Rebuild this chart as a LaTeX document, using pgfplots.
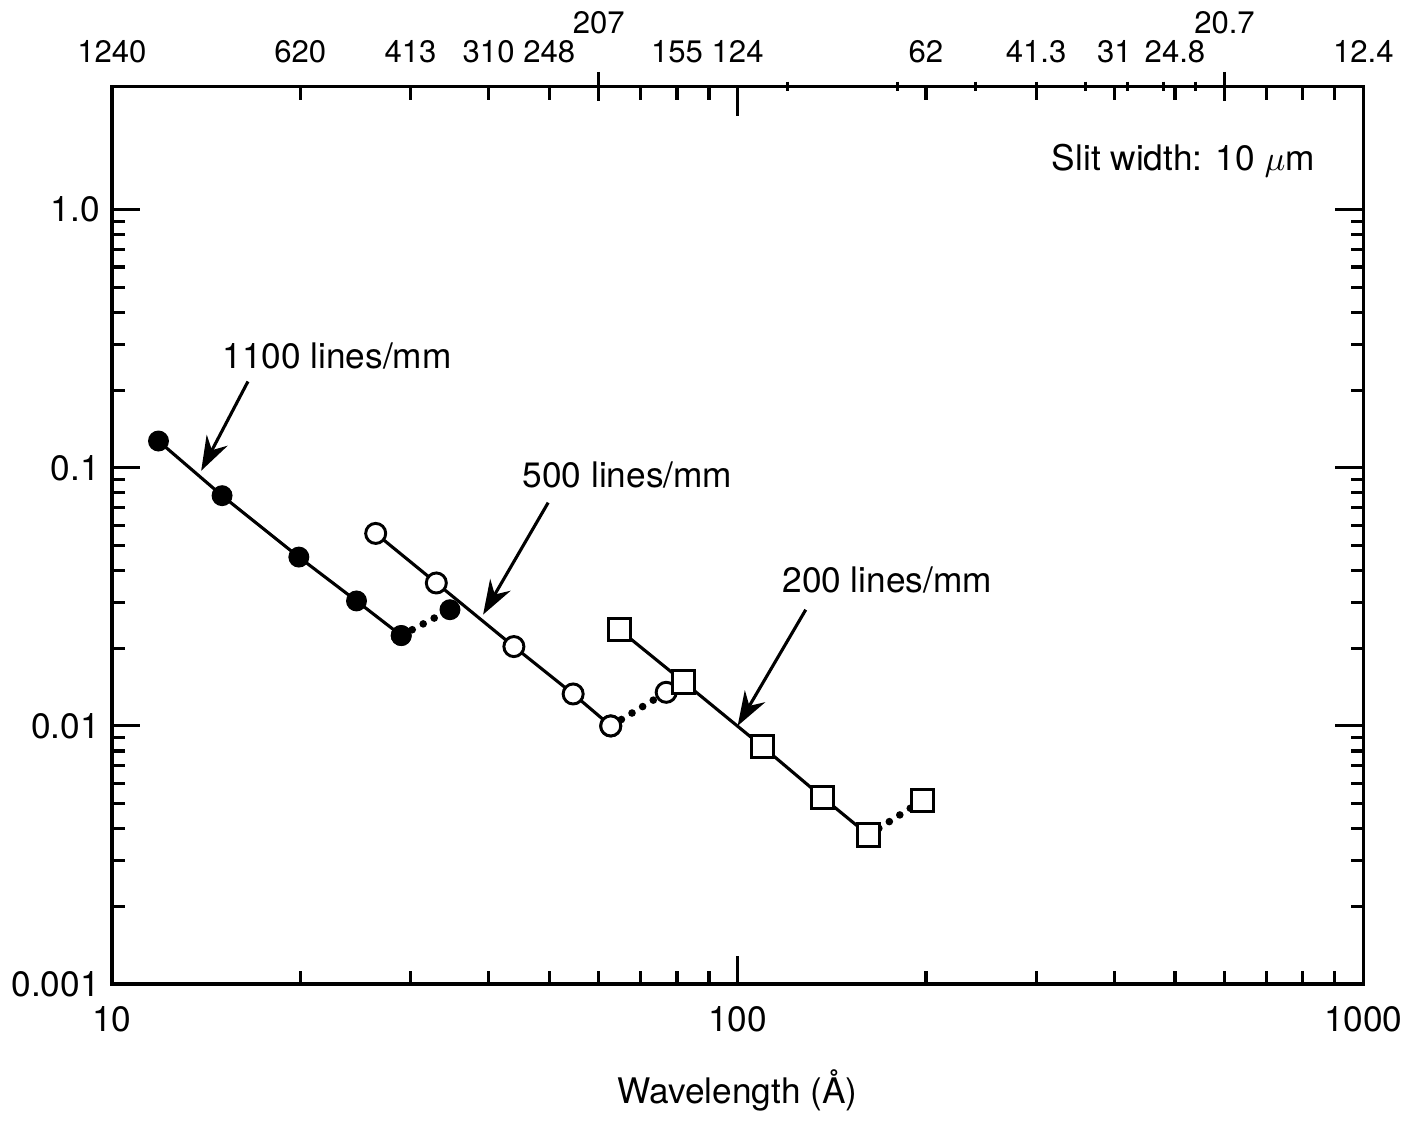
\documentclass[border=0pt]{standalone}
\usepackage{fontspec}
\setmainfont{TeX Gyre Heros}
\usepackage{pgfplots}
\pgfplotsset{compat=1.18}
\usetikzlibrary{arrows.meta}

% efficiency vs wavelength, three gratings
\pgfplotstableread{
x y
11.87 0.127
15.0  0.078
19.9  0.0451
24.6  0.0305
29.0  0.0224
}\gOne
\pgfplotstableread{
x y
29.0 0.0224
34.7 0.0282
}\gOneExt
\pgfplotstableread{
x y
26.4 0.0557
33.0 0.0358
43.9 0.0203
54.6 0.0133
62.7 0.0100
}\gTwo
\pgfplotstableread{
x y
62.7 0.0100
76.9 0.0135
}\gTwoExt
\pgfplotstableread{
x y
64.7  0.0236
82.0  0.0148
109.7 0.0083
136.8 0.00528
161.8 0.00378
}\gThree
\pgfplotstableread{
x y
161.8 0.00378
197.6 0.00515
}\gThreeExt

\tikzset{
  solidline/.style={black, line width=0.9pt},
  dotline/.style={black, line width=2.2pt, line cap=round, dash pattern=on 0pt off 3.6pt},
  fullmk/.style={solid, line width=0.85pt, fill=black},
  openmk/.style={solid, line width=0.85pt, fill=white},
}

\begin{document}
\begin{tikzpicture}
\pgfplotsset{
  every axis/.append style={
    scale only axis, width=127.3mm, height=91.3mm,
    xmode=log, xmin=10, xmax=1000,
    font=\fontsize{10.2}{12}\selectfont,
    axis line style={line width=1pt},
    every tick/.style={black, line width=0.9pt},
  },
}
\begin{axis}[
  ymode=log, ymin=0.001, ymax=3,
  tick align=inside,
  xtick pos=left, ytick pos=both,
  xtick={10,100,1000}, xticklabels={10,100,1000},
  ytick={0.001,0.01,0.1,1}, yticklabels={0.001,0.01,0.1,1.0},
  major tick length=2.9mm, minor tick length=1.3mm,
  xticklabel style={yshift=-1mm},
  xlabel={Wavelength (Å)},
  xlabel style={yshift=-1.5mm},
]
\addplot[dotline, mark=*, mark size=2.6pt, mark options={fullmk}] table {\gOneExt};
\addplot[solidline, mark=*, mark size=2.6pt, mark options={fullmk}] table {\gOne};
\addplot[dotline, mark=*, mark size=2.9pt, mark options={openmk}] table {\gTwoExt};
\addplot[solidline, mark=*, mark size=2.9pt, mark options={openmk}] table {\gTwo};
\addplot[dotline, mark=square*, mark size=3.2pt, mark options={openmk}] table {\gThreeExt};
\addplot[solidline, mark=square*, mark size=3.2pt, mark options={openmk}] table {\gThree};

\draw[-{Stealth[length=3.5mm,width=2.4mm]}, line width=0.9pt]
  (axis cs:16.5,0.216) -- (axis cs:13.89,0.0974);
\node at (axis cs:22.9,0.272) {1100 lines/mm};
\draw[-{Stealth[length=3.5mm,width=2.4mm]}, line width=0.9pt]
  (axis cs:49.8,0.0733) -- (axis cs:39.2,0.027);
\node at (axis cs:66.7,0.094) {500 lines/mm};
\draw[-{Stealth[length=3.5mm,width=2.4mm]}, line width=0.9pt]
  (axis cs:128.5,0.0282) -- (axis cs:100,0.01);
\node at (axis cs:173.4,0.0367) {200 lines/mm};
\node[anchor=east] at (rel axis cs:0.971,0.917) {Slit width: 10 $\mu$m};
\end{axis}

% energy scale (eV) along the top
\begin{axis}[
  ymin=0, ymax=1,
  axis x line*=top, axis y line=none,
  tick align=inside,
  xtick={10,20,30,40,50,80,200,300,400,500,1000},
  xticklabels={1240,620,413,310,248,155,62,41.3,31,24.8,12.4},
  minor xtick={70,90,700,800,900},
  extra x ticks={100}, extra x tick labels={124},
  extra x tick style={major tick length=3mm},
  major tick length=1.4mm, minor tick length=1.4mm,
  xticklabel style={font=\fontsize{9}{10}\selectfont, yshift=1.2mm},
]
\end{axis}
\begin{axis}[
  ymin=0, ymax=1,
  axis x line*=top, axis y line=none,
  tick align=center,
  xtick={60,600}, xticklabels={207,20.7},
  major tick length=3mm,
  xticklabel style={font=\fontsize{9}{10}\selectfont, yshift=2.6mm},
]
\end{axis}
\end{tikzpicture}
\end{document}
